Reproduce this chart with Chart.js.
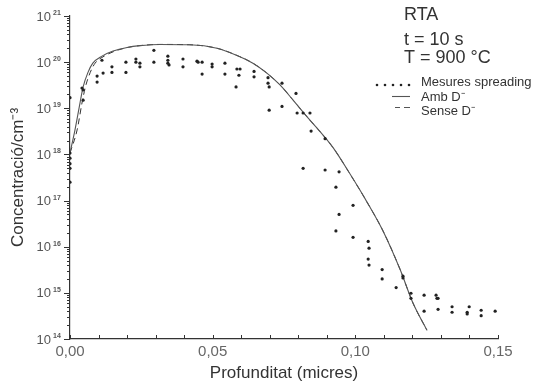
<!DOCTYPE html>
<html>
<head>
<meta charset="utf-8">
<script src="https://cdn.jsdelivr.net/npm/chart.js@4"></script>
<style>
  html, body { margin: 0; padding: 0; background: #fff; }
  #wrap { width: 533px; height: 387px; }
</style>
</head>
<body>
<div id="wrap"><canvas id="profile"></canvas></div>
<script>
// measured points (depth in micres, concentration in cm-3)
const measX = [0.000, 0.000, 0.000, 0.000, 0.000, 0.000, 0.0042, 0.0046, 0.0046, 0.0095, 0.0095,
  0.0112, 0.0116, 0.0147, 0.0147, 0.0196, 0.0196, 0.0231, 0.0231, 0.0245, 0.0245, 0.0294, 0.0294,
  0.0343, 0.0343, 0.0343, 0.0347, 0.0396, 0.0396, 0.0445, 0.0449, 0.0463, 0.0463, 0.0498, 0.0498,
  0.0543, 0.0543, 0.0585, 0.0596, 0.0582, 0.0592, 0.0645, 0.0645, 0.0694, 0.0694, 0.0698, 0.0698,
  0.0743, 0.0792, 0.0743, 0.0796, 0.0817, 0.0841, 0.0845, 0.0894, 0.0817, 0.0894, 0.0943, 0.0932,
  0.0992, 0.0943, 0.0932, 0.0992, 0.1045, 0.1048, 0.1045, 0.1048, 0.1094, 0.1094, 0.1143, 0.1167,
  0.1167, 0.1195, 0.1195, 0.1241, 0.1241, 0.1283, 0.1286, 0.1290, 0.1290, 0.1339, 0.1339, 0.1392,
  0.1392, 0.1399, 0.1441, 0.1441, 0.1490];
const measY = [1.7e19, 1.07e18, 8.3e17, 6.3e17, 5.0e17, 2.5e17, 2.75e19, 2.5e19, 1.5e19, 5.0e19, 3.7e19,
  1.1e20, 5.8e19, 7.9e19, 6.0e19, 1.0e20, 6.0e19, 1.17e20, 1.0e20, 9.5e19, 7.9e19, 1.8e20, 1.0e20,
  1.35e20, 1.1e20, 9.5e19, 8.7e19, 1.17e20, 7.9e19, 1.05e20, 1.0e20, 1.0e20, 5.5e19, 9.1e19, 7.9e19,
  9.5e19, 5.5e19, 7.1e19, 7.1e19, 2.9e19, 5.2e19, 6.3e19, 4.8e19, 4.6e19, 3.5e19, 2.9e19, 9.1e18,
  3.5e19, 2.1e19, 1.1e19, 7.9e18, 7.9e18, 7.9e18, 3.2e18, 2.2e18, 5.0e17, 4.6e17, 4.2e17, 1.95e17,
  7.9e16, 5.0e16, 2.2e16, 1.6e16, 1.3e16, 9.3e15, 5.4e15, 4.0e15, 3.2e15, 2.0e15, 1.3e15, 2.1e15,
  2.3e15, 9.8e14, 7.6e14, 8.9e14, 4.0e14, 8.9e14, 7.6e14, 7.6e14, 4.4e14, 5.0e14, 3.8e14, 3.8e14,
  3.5e14, 5.0e14, 4.2e14, 3.2e14, 4.0e14];

// simulation with D- ("Amb D-")
const ambX = [0.000, 0.00175, 0.0035, 0.0046, 0.0063, 0.008, 0.0112, 0.0151, 0.020, 0.0245, 0.0315,
  0.042, 0.0515, 0.0585, 0.0641, 0.069, 0.0736, 0.0782, 0.0831, 0.0866, 0.0922, 0.0981, 0.104,
  0.1097, 0.1157, 0.1202, 0.1251];
const ambY = [1.07e18, 3.4e18, 1.3e19, 2.9e19, 6.0e19, 9.5e19, 1.35e20, 1.74e20, 2.08e20, 2.28e20, 2.42e20,
  2.38e20, 2.0e20, 1.4e20, 9.5e19, 5.8e19, 3.2e19, 1.5e19, 6.5e18, 3.7e18, 1.4e18, 3.8e17, 9.5e16,
  2.2e16, 3.2e15, 6.0e14, 1.55e14];

// simulation without D- ("Sense D-")
const senseX = [0.000, 0.0025, 0.0042, 0.0054, 0.0071, 0.0088, 0.012, 0.0158, 0.0205, 0.0245, 0.0315,
  0.042, 0.0515, 0.0585, 0.0641, 0.069, 0.0736, 0.0782, 0.0831, 0.0866, 0.0922, 0.0981, 0.104,
  0.1097, 0.1157, 0.1202, 0.1251];
const senseY = [1.07e18, 3.4e18, 1.3e19, 2.9e19, 6.0e19, 9.5e19, 1.35e20, 1.74e20, 2.1e20, 2.28e20, 2.42e20,
  2.38e20, 2.0e20, 1.4e20, 9.5e19, 5.8e19, 3.2e19, 1.5e19, 6.5e18, 3.7e18, 1.4e18, 3.8e17, 9.5e16,
  2.2e16, 3.2e15, 6.0e14, 1.55e14];

const xTickLabels = ["0,00", "0,05", "0,10", "0,15"];
const yExponents = [14, 15, 16, 17, 18, 19, 20, 21];
const legendLabels = ["Mesures spreading", "Amb D\u207B", "Sense D\u207B"];
const noteLines = ["RTA", "t = 10 s", "T = 900 \u00B0C"];

const FONT = "'Liberation Sans', Arial, sans-serif";

function toPoints(xs, ys) {
  return xs.map((x, i) => ({ x: x, y: ys[i] }));
}

const decorPlugin = {
  id: "decor",
  afterDraw(chart) {
    const ctx = chart.ctx;
    const xs = chart.scales.x;
    const ys = chart.scales.y;
    const area = chart.chartArea;
    ctx.save();
    ctx.strokeStyle = "#333";
    ctx.lineWidth = 1;

    // y ticks (outside, majors longer)
    ys.ticks.forEach(t => {
      const py = Math.round(ys.getPixelForValue(t.value)) + 0.5;
      const len = t.major ? 6 : 3;
      ctx.beginPath();
      ctx.moveTo(area.left - len, py);
      ctx.lineTo(area.left, py);
      ctx.stroke();
    });
    // x ticks (inside)
    xs.ticks.forEach(t => {
      const px = Math.round(xs.getPixelForValue(t.value)) + 0.5;
      ctx.beginPath();
      ctx.moveTo(px, area.bottom);
      ctx.lineTo(px, area.bottom - 4);
      ctx.stroke();
    });

    // y labels 10^n
    ctx.fillStyle = "#555";
    yExponents.forEach(e => {
      const py = ys.getPixelForValue(Math.pow(10, e));
      ctx.font = "13px " + FONT;
      ctx.textAlign = "right";
      ctx.textBaseline = "middle";
      ctx.fillText("10", 51, py + 1);
      ctx.font = "bold 7px " + FONT;
      ctx.textAlign = "left";
      ctx.fillText(String(e), 53, py - 3);
    });

    // annotation
    ctx.fillStyle = "#333";
    ctx.font = "18px " + FONT;
    ctx.textAlign = "left";
    ctx.textBaseline = "alphabetic";
    const noteBase = [20, 45, 63];
    noteLines.forEach((s, i) => ctx.fillText(s, 404, noteBase[i]));

    // legend
    ctx.font = "13px " + FONT;
    const legBase = [86, 101, 115];
    legendLabels.forEach((s, i) => ctx.fillText(s, 421, legBase[i]));
    ctx.fillStyle = "#222";
    [377, 385, 393, 401, 409].forEach(px => {
      ctx.beginPath();
      ctx.arc(px, 85, 1.3, 0, Math.PI * 2);
      ctx.fill();
    });
    ctx.strokeStyle = "#555";
    ctx.lineWidth = 1.1;
    ctx.beginPath();
    ctx.moveTo(392, 96.5);
    ctx.lineTo(410, 96.5);
    ctx.stroke();
    ctx.beginPath();
    ctx.moveTo(395, 107.5);
    ctx.lineTo(400, 107.5);
    ctx.moveTo(404, 107.5);
    ctx.lineTo(410, 107.5);
    ctx.stroke();
    ctx.restore();
  }
};

new Chart(document.getElementById("profile"), {
  type: "scatter",
  data: {
    datasets: [
      {
        label: legendLabels[0],
        data: toPoints(measX, measY),
        pointRadius: 1.6,
        pointBackgroundColor: "#222",
        pointBorderWidth: 0,
      },
      {
        label: legendLabels[1],
        data: toPoints(ambX, ambY),
        showLine: true,
        cubicInterpolationMode: "monotone",
        borderColor: "#555",
        borderWidth: 1.1,
        pointRadius: 0,
      },
      {
        label: legendLabels[2],
        data: toPoints(senseX, senseY),
        showLine: true,
        cubicInterpolationMode: "monotone",
        borderColor: "#333",
        borderWidth: 1,
        borderDash: [6, 4],
        pointRadius: 0,
      },
    ],
  },
  options: {
    responsive: true,
    maintainAspectRatio: false,
    animation: false,
    layout: { padding: { left: 0, right: 35, top: 16, bottom: 0 } },
    plugins: {
      legend: { display: false },
      tooltip: { enabled: false },
    },
    scales: {
      x: {
        type: "linear",
        min: 0,
        max: 0.15,
        afterFit: s => { s.height = 48; },
        grid: { display: false, drawTicks: false },
        border: { display: true, color: "#333", width: 1.2 },
        ticks: {
          stepSize: 0.01,
          autoSkip: false,
          maxRotation: 0,
          padding: 4,
          color: "#666",
          font: { family: FONT, size: 15 },
          callback: v => {
            const k = Math.round(v * 100);
            return k % 5 === 0 ? xTickLabels[k / 5] : "";
          },
        },
        title: {
          display: true,
          text: "Profunditat (micres)",
          color: "#333",
          font: { family: FONT, size: 17 },
          padding: { top: 0, bottom: 3 },
        },
      },
      y: {
        type: "logarithmic",
        min: 1e14,
        max: 1e21,
        afterFit: s => { s.width = 70; },
        afterBuildTicks: s => {
          const t = [];
          yExponents.forEach(e => {
            for (let m = 1; m <= 9; m++) {
              if (e === 21 && m > 1) break;
              t.push({ value: m * Math.pow(10, e), major: m === 1 });
            }
          });
          s.ticks = t;
        },
        grid: { display: false },
        border: { display: true, color: "#333", width: 1.2 },
        ticks: { autoSkip: false, callback: () => "" },
        title: {
          display: true,
          text: "Concentració/cm\u207B\u00B3",
          color: "#333",
          font: { family: FONT, size: 17 },
          padding: { top: 8, bottom: 0 },
        },
      },
    },
  },
  plugins: [decorPlugin],
});
</script>
</body>
</html>
